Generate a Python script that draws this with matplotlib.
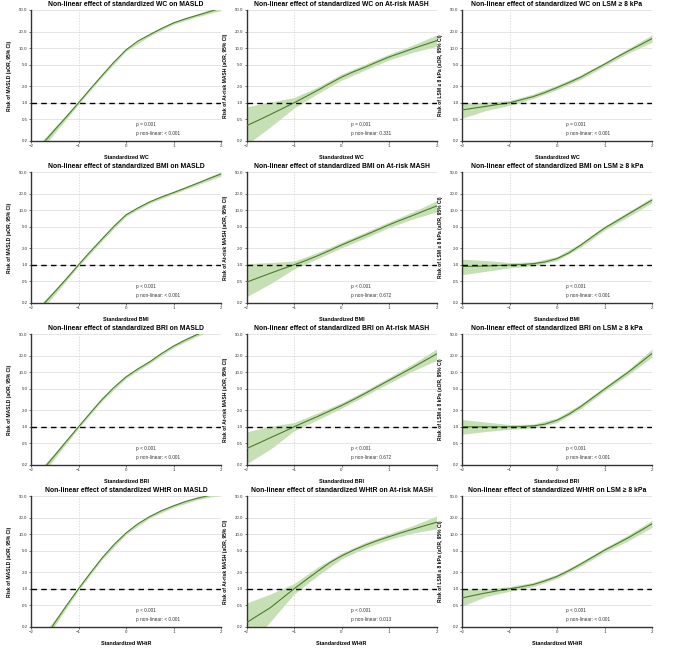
import numpy as np
import matplotlib
matplotlib.use("Agg")
import matplotlib.pyplot as plt

plt.rcParams['font.family'] = ['Liberation Sans', 'DejaVu Sans']

# x positions (standardized predictor)
x_line = np.arange(-2, 2.01, 0.25)
x_band = np.arange(-2, 2.01, 0.5)

predictors = ["WC", "BMI", "BRI", "WHtR"]
outcomes = ["MASLD", "At-risk MASH", "LSM ≥ 8 kPa"]
ylabels = ["Risk of MASLD (aOR, 95% CI)",
           "Risk of At-risk MASH (aOR, 95% CI)",
           "Risk of LSM ≥ 8 kPa (aOR, 95% CI)"]

p_overall = [["p = 0.001", "p = 0.001", "p = 0.001"],
             ["p < 0.001", "p < 0.001", "p < 0.001"],
             ["p < 0.001", "p < 0.001", "p < 0.001"],
             ["p < 0.001", "p < 0.001", "p < 0.001"]]
p_nonlin = [["< 0.001", "0.331", "< 0.001"],
            ["< 0.001", "0.672", "< 0.001"],
            ["< 0.001", "0.672", "< 0.001"],
            ["< 0.001", "0.013", "< 0.001"]]

# --- WC ---
wc_masld = [0.10, 0.18, 0.32, 0.56, 1.0, 1.8, 3.2, 5.6, 9.3, 13.5, 17.7, 23, 29, 34.5, 40, 46.5, 54]
wc_masld_lo = [0.082, 0.28, 0.94, 3.0, 8.8, 16.7, 27.5, 37.5, 49]
wc_masld_hi = [0.122, 0.36, 1.06, 3.4, 9.8, 18.7, 30.6, 42.5, 59]

wc_mash = [0.38, 0.48, 0.61, 0.78, 1.0, 1.3, 1.7, 2.25, 2.95, 3.7, 4.5, 5.6, 6.9, 8.2, 9.8, 11.6, 13.7]
wc_mash_lo = [0.17, 0.36, 0.8, 1.48, 2.6, 4.0, 6.1, 8.4, 10.8]
wc_mash_hi = [0.85, 1.03, 1.25, 1.95, 3.35, 5.1, 7.8, 11.4, 17.4]

wc_lsm = [0.74, 0.8, 0.86, 0.93, 1.0, 1.14, 1.3, 1.55, 1.9, 2.35, 2.95, 3.9, 5.1, 6.8, 8.9, 11.5, 15]
wc_lsm_lo = [0.52, 0.72, 0.9, 1.2, 1.74, 2.7, 4.7, 8.1, 12.9]
wc_lsm_hi = [1.0, 1.03, 1.1, 1.45, 2.1, 3.25, 5.5, 9.8, 17.6]

# --- BMI ---
bmi_masld = [0.105, 0.185, 0.32, 0.56, 1.0, 1.75, 3.0, 5.1, 8.2, 11.0, 14.2, 17.5, 21, 25.5, 31, 38, 46]
bmi_masld_lo = [0.088, 0.285, 0.94, 2.8, 7.7, 13.4, 19.8, 29, 42]
bmi_masld_hi = [0.125, 0.355, 1.06, 3.2, 8.7, 15.0, 22.2, 33, 50.5]

bmi_mash = [0.48, 0.58, 0.7, 0.84, 1.0, 1.2, 1.47, 1.83, 2.3, 2.85, 3.5, 4.35, 5.4, 6.6, 8.0, 9.8, 11.9]
bmi_mash_lo = [0.26, 0.45, 0.84, 1.3, 2.05, 3.1, 4.8, 6.9, 9.3]
bmi_mash_hi = [1.05, 1.1, 1.17, 1.68, 2.6, 3.95, 6.1, 9.3, 14.8]

bmi_lsm = [0.93, 0.94, 0.95, 0.97, 0.99, 1.01, 1.05, 1.13, 1.3, 1.65, 2.3, 3.3, 4.7, 6.3, 8.5, 11.4, 15.3]
bmi_lsm_lo = [0.66, 0.76, 0.88, 0.96, 1.2, 2.1, 4.3, 7.6, 13.7]
bmi_lsm_hi = [1.27, 1.2, 1.1, 1.13, 1.42, 2.5, 5.1, 9.4, 17.1]

# --- BRI ---
bri_masld = [0.09, 0.165, 0.3, 0.55, 1.0, 1.8, 3.2, 5.3, 8.2, 11.5, 15.5, 22, 30, 39, 49, 60, 72]
bri_masld_lo = [0.073, 0.265, 0.94, 3.0, 7.7, 14.5, 28.2, 45.5, 65]
bri_masld_hi = [0.11, 0.335, 1.06, 3.4, 8.7, 16.5, 31.8, 52.5, 79]

bri_mash = [0.40, 0.5, 0.63, 0.79, 1.0, 1.25, 1.55, 1.95, 2.45, 3.15, 4.1, 5.4, 7.1, 9.3, 12.2, 16.2, 21.5]
bri_mash_lo = [0.21, 0.39, 0.84, 1.35, 2.2, 3.7, 6.3, 10.5, 16.5]
bri_mash_hi = [0.81, 1.02, 1.2, 1.8, 2.75, 4.6, 8.0, 14.2, 26.5]

bri_lsm = [1.0, 1.0, 1.0, 1.0, 1.0, 1.01, 1.04, 1.12, 1.32, 1.7, 2.35, 3.4, 4.9, 7.0, 10.0, 14.8, 22]
bri_lsm_lo = [0.73, 0.82, 0.9, 0.95, 1.2, 2.15, 4.5, 9.0, 18.9]
bri_lsm_hi = [1.36, 1.22, 1.1, 1.12, 1.45, 2.6, 5.4, 11.1, 26.6]

# --- WHtR ---
whtr_masld = [0.06, 0.11, 0.24, 0.5, 1.0, 1.95, 3.7, 6.5, 10.5, 15.5, 21, 27, 33, 39.5, 45.5, 51, 56]
whtr_masld_lo = [0.046, 0.21, 0.94, 3.45, 9.9, 19.8, 31, 42.8, 52]
whtr_masld_hi = [0.078, 0.272, 1.06, 3.95, 11.1, 22.2, 35, 48.3, 60]

whtr_mash = [0.24, 0.33, 0.45, 0.67, 1.0, 1.45, 2.1, 3.0, 4.0, 5.1, 6.3, 7.6, 9.0, 10.6, 12.3, 14.3, 16.5]
whtr_mash_lo = [0.08, 0.25, 0.8, 1.75, 3.55, 5.6, 8.0, 10.5, 12.5]
whtr_mash_hi = [0.55, 0.8, 1.25, 2.5, 4.5, 7.1, 10.2, 14.3, 21.5]

whtr_lsm = [0.68, 0.76, 0.84, 0.92, 1.0, 1.09, 1.2, 1.4, 1.69, 2.15, 2.85, 3.8, 5.1, 6.6, 8.6, 11.5, 15.5]
whtr_lsm_lo = [0.48, 0.72, 0.9, 1.1, 1.55, 2.6, 4.65, 7.6, 13.3]
whtr_lsm_hi = [0.98, 0.98, 1.1, 1.31, 1.84, 3.1, 5.6, 9.7, 17.9]

curves = [[(wc_masld, wc_masld_lo, wc_masld_hi), (wc_mash, wc_mash_lo, wc_mash_hi), (wc_lsm, wc_lsm_lo, wc_lsm_hi)],
          [(bmi_masld, bmi_masld_lo, bmi_masld_hi), (bmi_mash, bmi_mash_lo, bmi_mash_hi), (bmi_lsm, bmi_lsm_lo, bmi_lsm_hi)],
          [(bri_masld, bri_masld_lo, bri_masld_hi), (bri_mash, bri_mash_lo, bri_mash_hi), (bri_lsm, bri_lsm_lo, bri_lsm_hi)],
          [(whtr_masld, whtr_masld_lo, whtr_masld_hi), (whtr_mash, whtr_mash_lo, whtr_mash_hi), (whtr_lsm, whtr_lsm_lo, whtr_lsm_hi)]]

yticks = [0.2, 0.5, 1.0, 2.0, 5.0, 10.0, 20.0, 50.0]

W, H = 687, 652
fig = plt.figure(figsize=(W / 100, H / 100), dpi=100)

col_left = [31, 246.5, 462]
row_bottom = [141, 303, 465, 627]
ax_w, ax_h = 190, 131

line_col = "#4a7d2a"
band_col = "#c6dfb4"

for i, pred in enumerate(predictors):
    for j, out in enumerate(outcomes):
        ax = fig.add_axes([col_left[j] / W, 1 - row_bottom[i] / H, ax_w / W, ax_h / H])
        y, lo, hi = curves[i][j]
        ax.fill_between(x_band, lo, hi, color=band_col, lw=0, zorder=2)
        ax.plot(x_line, y, color=line_col, lw=0.8, zorder=3)
        ax.axhline(1.0, color="black", lw=1.0, ls=(0, (4, 3)), zorder=4)
        ax.axvline(-1, color="#cfcfcf", lw=0.5, ls=(0, (2, 2)), zorder=1)

        ax.set_yscale("log")
        ax.set_ylim(0.2, 50)
        ax.set_xlim(-2, 2)
        ax.set_yticks(yticks)
        ax.set_yticklabels(["%.1f" % v for v in yticks])
        ax.minorticks_off()
        ax.set_xticks([-2, -1, 0, 1, 2])
        ax.grid(axis="y", color="#e0e0e0", lw=0.6, zorder=0)
        ax.set_axisbelow(True)

        for s in ["top", "right"]:
            ax.spines[s].set_visible(False)
        for s in ["left", "bottom"]:
            ax.spines[s].set_color("#333333")
            ax.spines[s].set_linewidth(1.0)
        ax.tick_params(labelsize=3.2, length=1.5, width=0.5, pad=1, colors="#333333")

        ax.set_title("Non-linear effect of standardized %s on %s" % (pred, out),
                     fontsize=4.9, fontweight="bold", pad=3)
        ax.set_xlabel("Standardized %s" % pred, fontsize=3.9, fontweight="bold", labelpad=5)
        ax.set_ylabel(ylabels[j], fontsize=3.6, fontweight="bold", labelpad=5)

        ax.text(0.55, 0.115, p_overall[i][j], transform=ax.transAxes, fontsize=3.4, color="#333333")
        ax.text(0.55, 0.045, "p non-linear: " + p_nonlin[i][j], transform=ax.transAxes,
                fontsize=3.4, color="#333333")

fig.savefig("out.png", dpi=100)
